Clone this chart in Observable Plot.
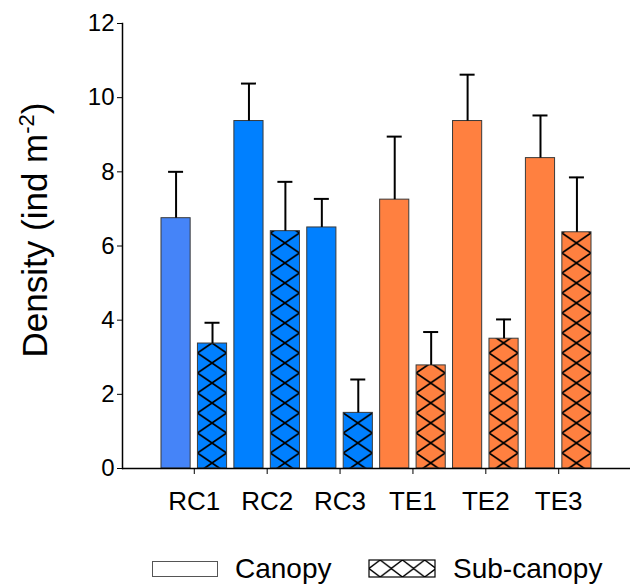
<!DOCTYPE html>
<html><head><meta charset="utf-8">
<script src="https://cdn.jsdelivr.net/npm/d3@7"></script>
<script src="https://cdn.jsdelivr.net/npm/@observablehq/plot@0.6"></script>
<style>
body{margin:0;background:#fff;font-family:"Liberation Sans",Arial,sans-serif}
#chart svg{display:block}
</style>
</head><body><div id="chart"></div><script>
// ---- data ----
const sites = ["RC1","RC2","RC3","TE1","TE2","TE3"];
const layers = ["Canopy","Sub-canopy"];
const canopyMean   = [6.75, 9.37, 6.50, 7.25, 9.37, 8.37];
const canopyErrTop = [8.00, 10.38, 7.27, 8.95, 10.62, 9.52];
const subMean      = [3.37, 6.40, 1.50, 2.78, 3.50, 6.37];
const subErrTop    = [3.93, 7.73, 2.40, 3.68, 4.02, 7.85];
const yTicks = [0,2,4,6,8,10,12];

// ---- style ----
const canopyColor = {RC1:"#4584F8", RC2:"#0080FF", RC3:"#0080FF", TE1:"#FF8040", TE2:"#FF8040", TE3:"#FF8040"};
const subColor    = {RC1:"#0080FF", RC2:"#0080FF", RC3:"#0080FF", TE1:"#FF8040", TE2:"#FF8040", TE3:"#FF8040"};
const W = 630, H = 530, mL = 122, mR = 0, mT = 23, mB = 62;
const padIn = 0.2, padOut = 1.07;

const rows = sites.flatMap((s,i)=>[
  {site:s, layer:layers[0], key:s+"|"+layers[0], mean:canopyMean[i], top:canopyErrTop[i], fill:canopyColor[s]},
  {site:s, layer:layers[1], key:s+"|"+layers[1], mean:subMean[i], top:subErrTop[i], fill:`url(#hatch-${s})`}
]);
const keys = rows.map(d=>d.key);
const band = d3.scaleBand().domain(keys).range([mL, W-mR]).paddingInner(padIn).paddingOuter(padOut);
const step = band.step(), bw = band.bandwidth();
const font = '"Liberation Sans", Arial, sans-serif';

const plot = Plot.plot({
  width: W, height: H,
  marginLeft: mL, marginRight: mR, marginTop: mT, marginBottom: mB,
  style: {fontFamily: font, color: "black", background: "white"},
  x: {type:"band", domain: keys, paddingInner: padIn, paddingOuter: padOut, round: false, axis: null},
  y: {domain: [0,12], axis: null},
  color: {type: "identity"},
  marks: [
    Plot.barY(rows, {x:"key", y:"mean", fill:"fill", stroke:"#3a3a3a", strokeWidth:1}),
    Plot.ruleX(rows, {x:"key", y1:"mean", y2:"top", stroke:"black", strokeWidth:2}),
    Plot.tickY(rows, {x:"key", y:"top", stroke:"black", strokeWidth:2, insetLeft:(bw-15)/2, insetRight:(bw-15)/2}),
    Plot.ruleY([0], {stroke:"black", strokeWidth:1.5}),
    Plot.frame({anchor:"left", stroke:"black", strokeWidth:1.5}),
    Plot.axisY({ticks: yTicks, tickSize: 5, tickPadding: 3, fontSize: 24, label: null, anchor:"left"}),
    Plot.axisX({ticks: keys.filter(k=>k.endsWith(layers[1])), tickFormat: d=>d.split("|")[0],
      dx: -step/2, tickSize: 6, tickPadding: 17, fontSize: 26, label: null, anchor:"bottom"})
  ]
});
document.getElementById("chart").appendChild(plot);

// hatch patterns aligned to each sub-canopy bar
const ys = plot.scale("y");
const y0 = ys.apply(0);
const svg = d3.select(plot);
const defs = svg.insert("defs", ":first-child");
const hh = 20;
sites.forEach(s=>{
  const p = defs.append("pattern").attr("id", "hatch-"+s)
    .attr("patternUnits","userSpaceOnUse")
    .attr("x", band(s+"|"+layers[1])).attr("y", y0 - 5)
    .attr("width", bw).attr("height", hh);
  p.append("rect").attr("width", bw).attr("height", hh).attr("fill", subColor[s]);
  p.append("path").attr("d", `M0,${hh/2} L${bw/2},0 L${bw},${hh/2} L${bw/2},${hh} Z`)
    .attr("fill","none").attr("stroke","black").attr("stroke-width",1.7);
});

// y-axis label with superscript
const lab = svg.append("text")
  .attr("transform", `translate(47,230) rotate(-90)`)
  .attr("text-anchor","middle").attr("font-size",35).attr("font-family",font).attr("fill","black");
lab.append("tspan").text("Density (ind m");
lab.append("tspan").attr("dy",-13).attr("font-size",22).text("-2");
lab.append("tspan").attr("dy",13).text(")");

// legend below
const leg = d3.select("body").append("svg").attr("width", W).attr("height", 54).style("display","block");
const lp = leg.append("defs").append("pattern").attr("id","hatch-legend")
  .attr("patternUnits","userSpaceOnUse").attr("x",369).attr("y",30).attr("width",22.3).attr("height",17);
lp.append("rect").attr("width",22.3).attr("height",17).attr("fill","white");
lp.append("path").attr("d","M0,8.5 L11.15,0 L22.3,8.5 L11.15,17 Z").attr("fill","none").attr("stroke","black").attr("stroke-width",1.4);
leg.append("rect").attr("x",152.5).attr("y",31.5).attr("width",65).attr("height",15).attr("fill","white").attr("stroke","#555");
leg.append("text").attr("x",235).attr("y",47.5).attr("font-size",28).attr("font-family",font).text(layers[0]);
leg.append("rect").attr("x",369).attr("y",30).attr("width",66).attr("height",17).attr("fill","url(#hatch-legend)").attr("stroke","black").attr("stroke-width",1.2);
leg.append("text").attr("x",453).attr("y",47.5).attr("font-size",28).attr("font-family",font).text(layers[1]);
</script></body></html>
